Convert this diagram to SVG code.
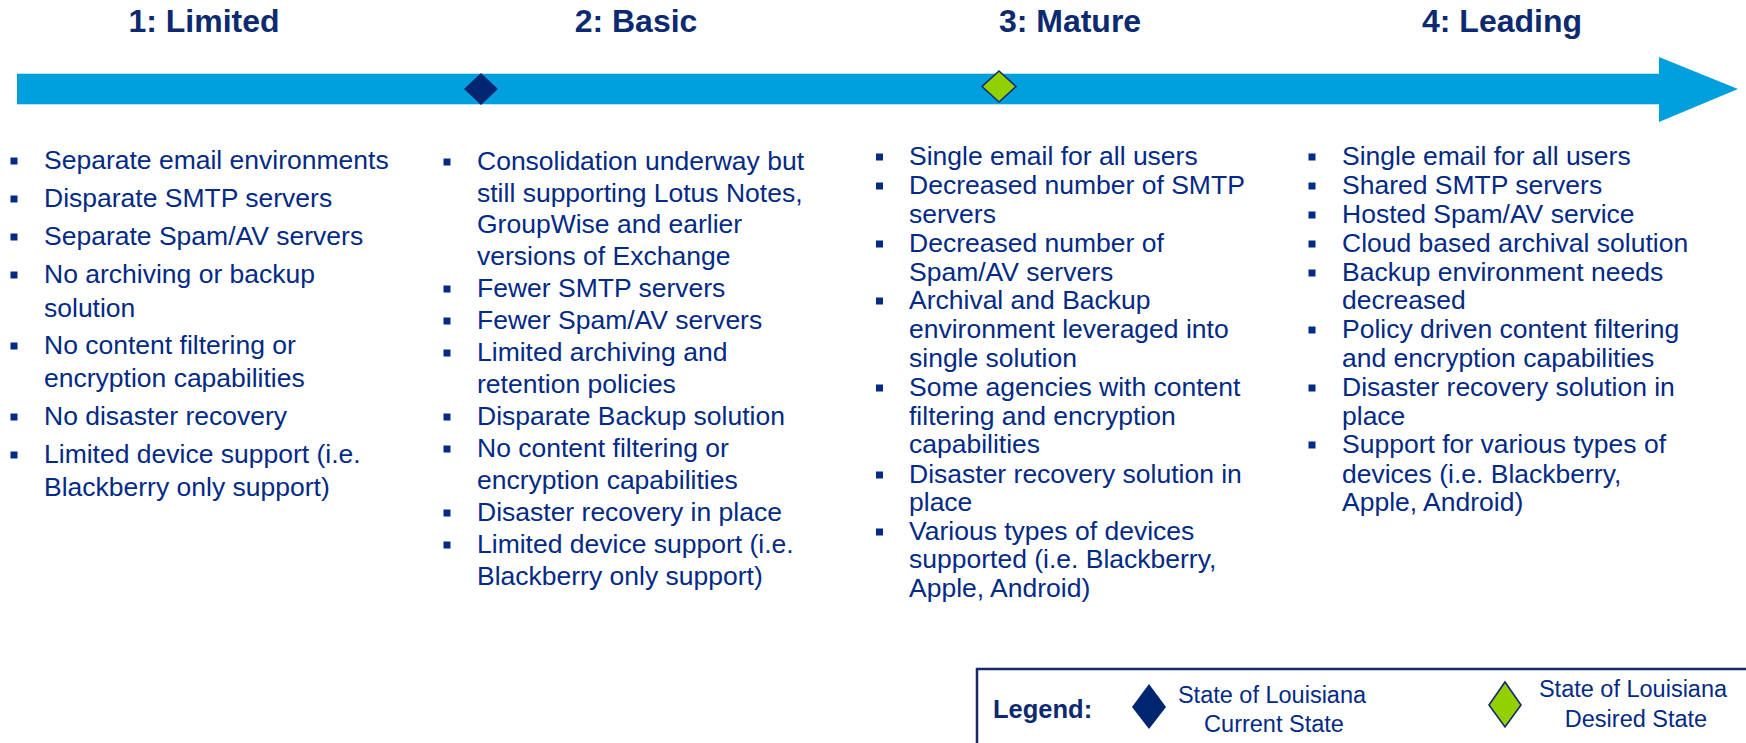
<svg xmlns="http://www.w3.org/2000/svg" width="1746" height="743" viewBox="0 0 1746 743">
<style>
.t{font-family:"Liberation Sans",Arial,sans-serif;font-weight:bold;font-size:32px;fill:#0b2a6f;text-anchor:middle}
.b{font-family:"Liberation Sans",Arial,sans-serif;font-size:26.5px;fill:#032a84}
.lg{font-family:"Liberation Sans",Arial,sans-serif;font-weight:bold;font-size:25.5px;fill:#0b2a6f}
.ls{font-family:"Liberation Sans",Arial,sans-serif;font-size:23.5px;fill:#032a84;text-anchor:middle}
.sq{fill:#032a84}
.cur{fill:#002672}
.des{fill:#92d000;stroke:#12296a;stroke-width:1.6}
</style>
<defs>
<rect id="bl" class="sq" x="0" y="-11.5" width="7" height="7"/>
</defs>
<rect width="1746" height="743" fill="#ffffff"/>
<g id="titles">
<text class="t" x="204" y="32">1: Limited</text>
<text class="t" x="636" y="32">2: Basic</text>
<text class="t" x="1070" y="32">3: Mature</text>
<text class="t" x="1502" y="32">4: Leading</text>
</g>
<g id="timeline">
<polygon points="17,73 1659,73 1659,57 1738,89 1659,122 1659,105 17,105" fill="#00a0df"/>
<line x1="17" y1="73.5" x2="1659" y2="73.5" stroke="#b8e3f5" stroke-width="1"/>
<line x1="17" y1="104.5" x2="1659" y2="104.5" stroke="#b8e3f5" stroke-width="1"/>
</g>
<g id="marker-current">
<polygon class="cur" points="481,73 498,89 481,105 464,89"/>
</g>
<g id="marker-desired">
<polygon class="des" points="999,71 1016,86.5 999,102 982,86.5"/>
</g>
<g id="col1-limited">
<use href="#bl" x="10.5" y="169"/><text class="b" x="44" y="169">Separate email environments</text>
<use href="#bl" x="10.5" y="207"/><text class="b" x="44" y="207">Disparate SMTP servers</text>
<use href="#bl" x="10.5" y="245"/><text class="b" x="44" y="245">Separate Spam/AV servers</text>
<use href="#bl" x="10.5" y="283"/><text class="b" x="44" y="283">No archiving or backup</text>
<text class="b" x="44" y="317">solution</text>
<use href="#bl" x="10.5" y="354"/><text class="b" x="44" y="354">No content filtering or</text>
<text class="b" x="44" y="387">encryption capabilities</text>
<use href="#bl" x="10.5" y="425"/><text class="b" x="44" y="425">No disaster recovery</text>
<use href="#bl" x="10.5" y="463"/><text class="b" x="44" y="463">Limited device support (i.e.</text>
<text class="b" x="44" y="496">Blackberry only support)</text>
</g>
<g id="col2-basic">
<use href="#bl" x="443.5" y="170"/><text class="b" x="477" y="170">Consolidation underway but</text>
<text class="b" x="477" y="202">still supporting Lotus Notes,</text>
<text class="b" x="477" y="233">GroupWise and earlier</text>
<text class="b" x="477" y="265">versions of Exchange</text>
<use href="#bl" x="443.5" y="297"/><text class="b" x="477" y="297">Fewer SMTP servers</text>
<use href="#bl" x="443.5" y="329"/><text class="b" x="477" y="329">Fewer Spam/AV servers</text>
<use href="#bl" x="443.5" y="361"/><text class="b" x="477" y="361">Limited archiving and</text>
<text class="b" x="477" y="393">retention policies</text>
<use href="#bl" x="443.5" y="425"/><text class="b" x="477" y="425">Disparate Backup solution</text>
<use href="#bl" x="443.5" y="457"/><text class="b" x="477" y="457">No content filtering or</text>
<text class="b" x="477" y="489">encryption capabilities</text>
<use href="#bl" x="443.5" y="521"/><text class="b" x="477" y="521">Disaster recovery in place</text>
<use href="#bl" x="443.5" y="553"/><text class="b" x="477" y="553">Limited device support (i.e.</text>
<text class="b" x="477" y="585">Blackberry only support)</text>
</g>
<g id="col3-mature">
<use href="#bl" x="876" y="165"/><text class="b" x="909" y="165">Single email for all users</text>
<use href="#bl" x="876" y="194"/><text class="b" x="909" y="194">Decreased number of SMTP</text>
<text class="b" x="909" y="223">servers</text>
<use href="#bl" x="876" y="252"/><text class="b" x="909" y="252">Decreased number of</text>
<text class="b" x="909" y="281">Spam/AV servers</text>
<use href="#bl" x="876" y="309"/><text class="b" x="909" y="309">Archival and Backup</text>
<text class="b" x="909" y="338">environment leveraged into</text>
<text class="b" x="909" y="367">single solution</text>
<use href="#bl" x="876" y="396"/><text class="b" x="909" y="396">Some agencies with content</text>
<text class="b" x="909" y="425">filtering and encryption</text>
<text class="b" x="909" y="453">capabilities</text>
<use href="#bl" x="876" y="483"/><text class="b" x="909" y="483">Disaster recovery solution in</text>
<text class="b" x="909" y="511">place</text>
<use href="#bl" x="876" y="540"/><text class="b" x="909" y="540">Various types of devices</text>
<text class="b" x="909" y="568">supported (i.e. Blackberry,</text>
<text class="b" x="909" y="597">Apple, Android)</text>
</g>
<g id="col4-leading">
<use href="#bl" x="1308.5" y="165"/><text class="b" x="1342" y="165">Single email for all users</text>
<use href="#bl" x="1308.5" y="194"/><text class="b" x="1342" y="194">Shared SMTP servers</text>
<use href="#bl" x="1308.5" y="223"/><text class="b" x="1342" y="223">Hosted Spam/AV service</text>
<use href="#bl" x="1308.5" y="252"/><text class="b" x="1342" y="252">Cloud based archival solution</text>
<use href="#bl" x="1308.5" y="281"/><text class="b" x="1342" y="281">Backup environment needs</text>
<text class="b" x="1342" y="309">decreased</text>
<use href="#bl" x="1308.5" y="338"/><text class="b" x="1342" y="338">Policy driven content filtering</text>
<text class="b" x="1342" y="367">and encryption capabilities</text>
<use href="#bl" x="1308.5" y="396"/><text class="b" x="1342" y="396">Disaster recovery solution in</text>
<text class="b" x="1342" y="425">place</text>
<use href="#bl" x="1308.5" y="453"/><text class="b" x="1342" y="453">Support for various types of</text>
<text class="b" x="1342" y="483">devices (i.e. Blackberry,</text>
<text class="b" x="1342" y="511">Apple, Android)</text>
</g>
<g id="legend">
<rect x="977" y="669" width="780" height="90" fill="#ffffff" stroke="#15296b" stroke-width="2.5"/>
<text class="lg" x="993" y="718">Legend:</text>
<polygon class="cur" points="1149,684 1166,707 1149,729 1132,707"/>
<text class="ls" x="1272" y="703">State of Louisiana</text>
<text class="ls" x="1274" y="732">Current State</text>
<polygon class="des" points="1505,682 1521,705 1505,727 1489,705"/>
<text class="ls" x="1633" y="697">State of Louisiana</text>
<text class="ls" x="1636" y="727">Desired State</text>
</g>
</svg>
